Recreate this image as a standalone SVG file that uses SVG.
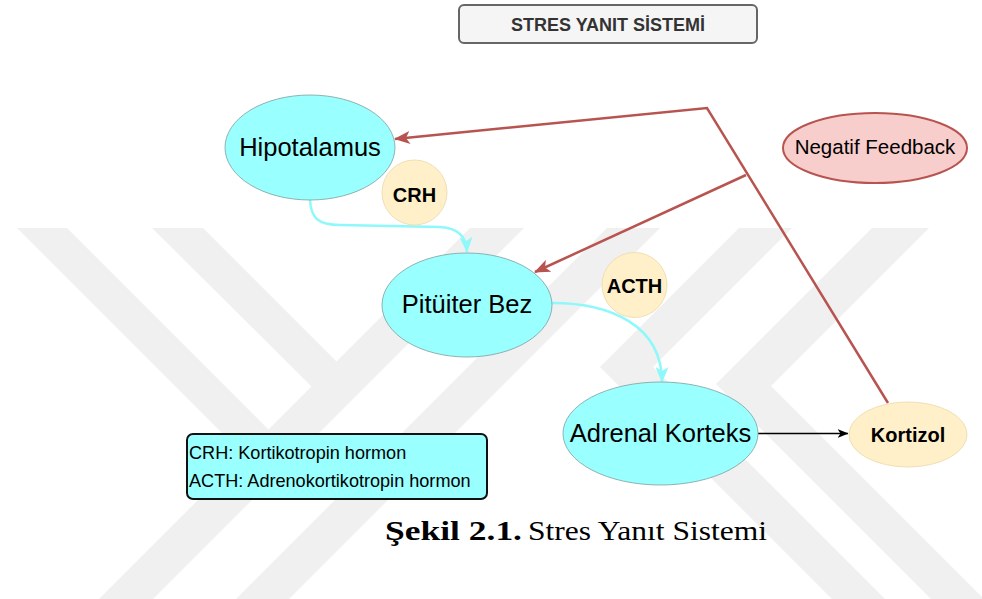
<svg xmlns="http://www.w3.org/2000/svg" width="982" height="599" viewBox="0 0 982 599">
<defs>
<style>
.wm{fill:#f0f0f0;stroke:none}
.cyan{fill:#99ffff;stroke:#7e9e9e;stroke-width:0.8}
.peach{fill:#fff0c9;stroke:#f0dfb3;stroke-width:1}
.big{font-family:"Liberation Sans",Arial,sans-serif;font-size:25.5px;fill:#000;text-anchor:middle}
.small{font-family:"Liberation Sans",Arial,sans-serif;font-size:20px;font-weight:bold;fill:#000;text-anchor:middle}
.leg{font-family:"Liberation Sans",Arial,sans-serif;font-size:18.1px;fill:#000}
.red{fill:none;stroke:#b85450;stroke-width:2.5}
.cl{fill:none;stroke:#8ff8fb;stroke-width:2.5}
</style>
<marker id="mRed" viewBox="0 0 16 13" refX="15" refY="6.5" markerWidth="16" markerHeight="13" markerUnits="userSpaceOnUse" orient="auto"><path d="M0,0 L16,6.5 L0,13 L4,6.5 z" fill="#b85450"/></marker>
<marker id="mCyan" viewBox="0 0 16 13" refX="15" refY="6.5" markerWidth="16" markerHeight="13" markerUnits="userSpaceOnUse" orient="auto"><path d="M0,0 L16,6.5 L0,13 L4,6.5 z" fill="#8ff8fb"/></marker>
<marker id="mBlack" viewBox="0 0 11 9" refX="10.5" refY="4.5" markerWidth="11" markerHeight="9" markerUnits="userSpaceOnUse" orient="auto"><path d="M0,0 L11,4.5 L0,9 L3,4.5 z" fill="#000"/></marker>
</defs>
<rect width="982" height="599" fill="#ffffff"/>
<g id="watermark">
<polygon class="wm" points="470,228 524,228 153,599 99,599"/>
<polygon class="wm" points="17,228 67,228 269,430 244,455"/>
<polygon class="wm" points="152,228 203,228 337,362 312,387"/>
<polygon class="wm" points="607,228 660,228 289,599 236,599"/>
<polygon class="wm" points="739,228 792,228 653,367 885,599 832,599 600,367"/>
<polygon class="wm" points="872,228 929,228 771,386 984,599 931,599 716,384"/>
</g>
<g id="title">
<rect x="459" y="5" width="298" height="38" rx="5" fill="#f5f5f5" stroke="#666666" stroke-width="2"/>
<text x="608" y="31" font-family="'Liberation Sans',Arial,sans-serif" font-size="18" font-weight="bold" fill="#333333" text-anchor="middle">STRES YANIT SİSTEMİ</text>
</g>
<g id="connectors">
<path class="cl" d="M310,200 C311,218 318,225 340,225 L440,227 C458,228 466,236 467,252" marker-end="url(#mCyan)"/>
<path class="cl" d="M552,303 C610,303 662,325 662,382" marker-end="url(#mCyan)"/>
<path d="M758,433.5 L848,433.5" fill="none" stroke="#000" stroke-width="1.3" marker-end="url(#mBlack)"/>
<path class="red" d="M888,403 L707,108 L395,139" marker-end="url(#mRed)"/>
<path class="red" d="M746,175 L535,272" marker-end="url(#mRed)"/>
</g>
<g id="hipotalamus">
<ellipse class="cyan" cx="310" cy="147.5" rx="85" ry="52.5"/>
<text class="big" x="310" y="156">Hipotalamus</text>
</g>
<g id="crh">
<circle class="peach" cx="414.5" cy="192.5" r="32.5"/>
<text class="small" x="414.5" y="201.5">CRH</text>
</g>
<g id="pituiter">
<ellipse class="cyan" cx="467" cy="305" rx="85" ry="52"/>
<text class="big" x="467" y="313">Pitüiter Bez</text>
</g>
<g id="acth">
<circle class="peach" cx="634.5" cy="285" r="32.5"/>
<text class="small" x="634.5" y="293">ACTH</text>
</g>
<g id="adrenal">
<ellipse class="cyan" cx="660.5" cy="433.5" rx="97.5" ry="51.5"/>
<text class="big" x="660.5" y="442">Adrenal Korteks</text>
</g>
<g id="kortizol">
<ellipse class="peach" cx="908" cy="434.5" rx="59" ry="32.5"/>
<text class="small" x="908" y="442">Kortizol</text>
</g>
<g id="negatif">
<ellipse cx="875" cy="148" rx="92" ry="35" fill="#f8cecc" stroke="#b85450" stroke-width="2"/>
<text x="875" y="154" font-family="'Liberation Sans',Arial,sans-serif" font-size="20.5" fill="#000" text-anchor="middle">Negatif Feedback</text>
</g>
<g id="legend">
<rect x="187" y="434" width="300" height="65" rx="6" fill="#99ffff" stroke="#111111" stroke-width="2"/>
<text class="leg" x="189" y="459">CRH: Kortikotropin hormon</text>
<text class="leg" x="189" y="487">ACTH: Adrenokortikotropin hormon</text>
</g>
<g id="caption">
<text x="385" y="540" font-family="'Liberation Serif','Times New Roman',serif" font-size="27" font-weight="bold" fill="#000" textLength="137" lengthAdjust="spacingAndGlyphs">Şekil 2.1.</text>
<text x="528" y="540" font-family="'Liberation Serif','Times New Roman',serif" font-size="27" fill="#000" textLength="239" lengthAdjust="spacingAndGlyphs">Stres Yanıt Sistemi</text>
</g>
</svg>
